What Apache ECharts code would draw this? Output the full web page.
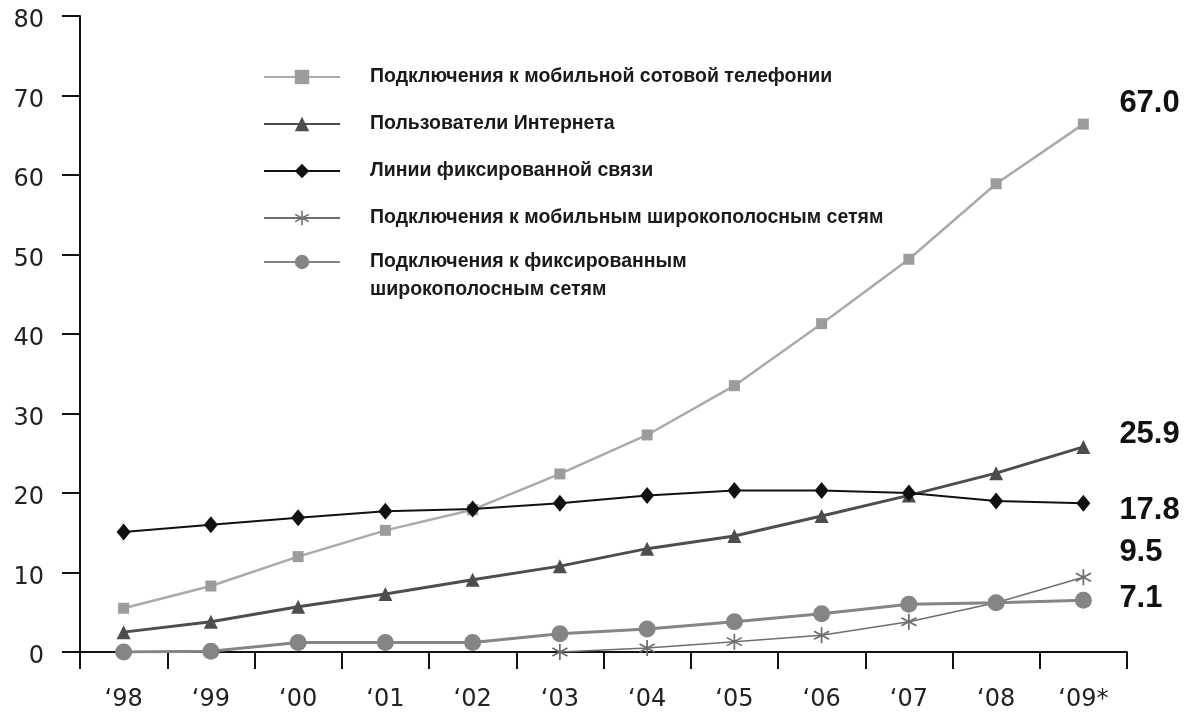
<!DOCTYPE html>
<html>
<head>
<meta charset="utf-8">
<script src="https://cdn.jsdelivr.net/npm/echarts@6/dist/echarts.min.js"></script>
<style>
html,body{margin:0;padding:0;background:#fff;}
#chart{width:1191px;height:713px;}
</style>
</head>
<body>
<div id="chart"></div>
<script>
const categories = ['‘98','‘99','‘00','‘01','‘02','‘03','‘04','‘05','‘06','‘07','‘08','‘09*'];
const seriesNames = [
  'Подключения к мобильной сотовой телефонии',
  'Пользователи Интернета',
  'Линии фиксированной связи',
  'Подключения к мобильным широкополосным сетям',
  'Подключения к фиксированным\nширокополосным сетям'
];
const mobileCellular = [5.5, 8.3, 12.0, 15.3, 17.9, 22.4, 27.3, 33.5, 41.3, 49.4, 58.9, 66.4];
const internetUsers = [2.5, 3.8, 5.7, 7.3, 9.1, 10.8, 13.0, 14.6, 17.1, 19.7, 22.5, 25.8];
const fixedLines = [15.1, 16.0, 16.9, 17.7, 18.0, 18.7, 19.7, 20.3, 20.3, 20.0, 19.0, 18.7];
const mobileBroadband = [null, null, null, null, null, 0.0, 0.5, 1.3, 2.1, 3.8, 6.2, 9.4];
const fixedBroadband = [0.0, 0.1, 1.2, 1.2, 1.2, 2.3, 2.9, 3.8, 4.8, 6.0, 6.2, 6.5];
const endLabels = ['67.0', '25.9', '17.8', '9.5', '7.1'];
const yTicks = [0, 80, 10];

const asterisk = 'path://M-1,-10L1,-10L1,10L-1,10Z M8.16,-5.87L9.16,-4.13L-8.16,5.87L-9.16,4.13Z M-9.16,-4.13L-8.16,-5.87L9.16,4.13L8.16,5.87Z';

function withEndLabel(values, text, dy) {
  const last = values.length - 1;
  return values.map((v, i) => i === last ? {
    value: v,
    label: {
      show: true, formatter: text, position: 'inside', align: 'left', verticalAlign: 'middle',
      offset: [36, dy], fontFamily: 'Liberation Sans, Arial, sans-serif', fontWeight: 'bold',
      fontSize: 31, color: '#111'
    }
  } : v);
}

const chart = echarts.init(document.getElementById('chart'), null, {renderer: 'canvas'});
const legendText = {
  fontFamily: '"Liberation Sans Narrow", "Arial Narrow", "Liberation Sans", sans-serif',
  fontWeight: 'bold', fontSize: 19.5, color: '#1a1a1a', lineHeight: 20, padding: [0, 0, 0, 25]
};
chart.setOption({
  backgroundColor: '#fff',
  animation: false,
  grid: {left: 80, right: 64, top: 16, bottom: 61, containLabel: false},
  legend: [{
    orient: 'vertical', left: 258, top: 62, itemWidth: 76, itemHeight: 18, itemGap: 27,
    data: seriesNames.slice(0, 4), textStyle: legendText, selectedMode: false
  }, {
    orient: 'vertical', left: 258, top: 215, itemWidth: 76, itemHeight: 18,
    data: [seriesNames[4]], selectedMode: false,
    formatter: name => '\n' + name,
    textStyle: Object.assign({}, legendText, {lineHeight: 28})
  }],
  xAxis: {
    type: 'category', data: categories, boundaryGap: true,
    axisLine: {lineStyle: {color: '#111', width: 2}},
    axisTick: {show: true, length: 17, lineStyle: {color: '#111', width: 2}},
    axisLabel: {margin: 36, fontFamily: 'DejaVu Sans, sans-serif', fontSize: 24, color: '#222'},
    splitLine: {show: false}
  },
  yAxis: {
    type: 'value', min: yTicks[0], max: yTicks[1], interval: yTicks[2],
    axisLine: {show: true, lineStyle: {color: '#111', width: 2}},
    axisTick: {show: true, length: 18, lineStyle: {color: '#111', width: 2}},
    axisLabel: {
      margin: 36, formatter: '{v|{value}}',
      rich: {v: {padding: [10, 0, 0, 0], fontFamily: 'DejaVu Sans, sans-serif', fontSize: 24, color: '#222'}}
    },
    splitLine: {show: false}
  },
  series: [{
    name: seriesNames[0], type: 'line', data: withEndLabel(mobileCellular, endLabels[0], -21),
    symbol: 'rect', symbolSize: 11, lineStyle: {color: '#aaaaaa', width: 2.5},
    itemStyle: {color: '#9c9c9c'}, z: 2
  }, {
    name: seriesNames[1], type: 'line', data: withEndLabel(internetUsers, endLabels[1], -12),
    symbol: 'triangle', symbolSize: 14, lineStyle: {color: '#4d4d4d', width: 3},
    itemStyle: {color: '#4d4d4d'}, z: 3
  }, {
    name: seriesNames[2], type: 'line', data: withEndLabel(fixedLines, endLabels[2], 7),
    symbol: 'diamond', symbolSize: [14, 17], lineStyle: {color: '#111', width: 2},
    itemStyle: {color: '#111'}, z: 4
  }, {
    name: seriesNames[3], type: 'line', data: withEndLabel(mobileBroadband, endLabels[3], -25),
    symbol: asterisk, symbolSize: 16, lineStyle: {color: '#6e6e6e', width: 1.5},
    itemStyle: {color: '#6e6e6e'}, z: 5
  }, {
    name: seriesNames[4], type: 'line', data: withEndLabel(fixedBroadband, endLabels[4], -2),
    symbol: 'circle', symbolSize: 17, lineStyle: {color: '#858585', width: 3},
    itemStyle: {color: '#858585'}, z: 6
  }]
});
</script>
</body>
</html>
